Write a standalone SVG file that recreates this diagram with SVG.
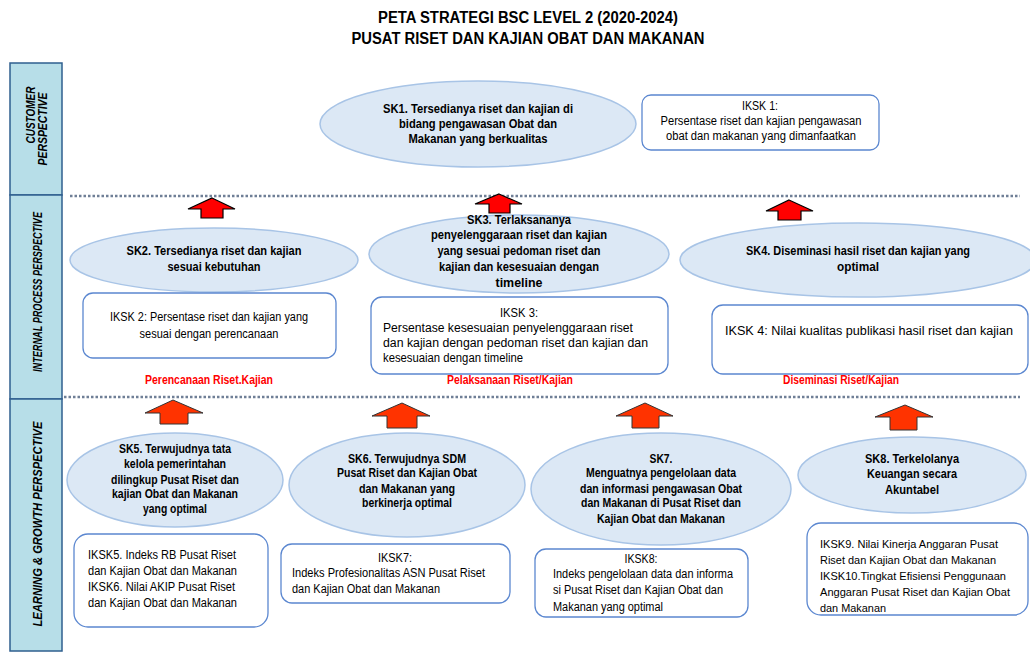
<svg xmlns="http://www.w3.org/2000/svg" width="1030" height="652" viewBox="0 0 1030 652">
<style>
.t{font-family:"Liberation Sans Narrow","Liberation Sans",Arial,sans-serif;fill:#000}
.title{font-size:16px;font-weight:bold;text-anchor:middle}
.side{font-size:12.5px;font-weight:bold;font-style:italic;text-anchor:middle}
.sk{font-size:12.5px;font-weight:bold;text-anchor:middle}
.ik{font-size:12.5px}
.iks{font-size:11.5px}
.ikc{font-size:12.5px;text-anchor:middle}
.lab{font-size:12.5px;font-weight:bold;fill:#ff0000;text-anchor:middle}
.ell{fill:#dce8f5;stroke:#a8c4e6;stroke-width:1.5}
.box{fill:#fff;stroke:#5b87d0;stroke-width:1.3}
.sidebox{fill:#b7dee8;stroke:#2f5f8f;stroke-width:1.5}
.dot{stroke:#6f7f96;stroke-width:2.5;stroke-dasharray:2.5 2}
.ar1{fill:#ff0000;stroke:#000;stroke-width:1.2}
.ar2{fill:#ff3300;stroke:#333;stroke-width:1}
</style>

<g id="title">
<text class="t title" x="528" y="23" textLength="300" lengthAdjust="spacingAndGlyphs">PETA STRATEGI BSC LEVEL 2 (2020-2024)</text>
<text class="t title" x="528" y="44" textLength="353" lengthAdjust="spacingAndGlyphs">PUSAT RISET DAN KAJIAN OBAT DAN MAKANAN</text>
</g>

<g id="sidebar">
<rect class="sidebox" x="10" y="63" width="52" height="132"/>
<rect class="sidebox" x="10" y="195" width="52" height="204"/>
<rect class="sidebox" x="10" y="399" width="52" height="252"/>
<text class="t side" x="35" y="115" transform="rotate(-90 35 115)" textLength="57" lengthAdjust="spacingAndGlyphs">CUSTOMER</text>
<text class="t side" x="47" y="129" transform="rotate(-90 47 129)" textLength="73" lengthAdjust="spacingAndGlyphs">PERSPECTIVE</text>
<text class="t side" x="42" y="292" transform="rotate(-90 42 292)" textLength="160" lengthAdjust="spacingAndGlyphs">INTERNAL PROCESS PERSPECTIVE</text>
<text class="t side" x="42" y="524" transform="rotate(-90 42 524)" textLength="205" lengthAdjust="spacingAndGlyphs">LEARNING &amp; GROWTH PERSPECTIVE</text>
</g>

<g id="dividers">
<line class="dot" x1="70" y1="196" x2="1020" y2="196"/>
<line class="dot" x1="64" y1="397" x2="1020" y2="397"/>
</g>

<g id="SK1">
<ellipse class="ell" cx="478" cy="124" rx="158" ry="43"/>
<text class="t sk" x="478" y="113" textLength="190" lengthAdjust="spacingAndGlyphs">SK1. Tersedianya riset dan kajian di</text>
<text class="t sk" x="478" y="128" textLength="158" lengthAdjust="spacingAndGlyphs">bidang pengawasan Obat dan</text>
<text class="t sk" x="478" y="143" textLength="139" lengthAdjust="spacingAndGlyphs">Makanan yang berkualitas</text>
</g>

<g id="IKSK1">
<rect class="box" x="642" y="95" width="237" height="55" rx="9"/>
<text class="t ikc" x="760" y="110" textLength="36" lengthAdjust="spacingAndGlyphs">IKSK 1:</text>
<text class="t ikc" x="761" y="125" textLength="201" lengthAdjust="spacingAndGlyphs">Persentase riset dan kajian pengawasan</text>
<text class="t ikc" x="761" y="140" textLength="190" lengthAdjust="spacingAndGlyphs">obat dan makanan yang dimanfaatkan</text>
</g>

<g id="SK2">
<ellipse class="ell" cx="214" cy="260" rx="144" ry="32"/>
<text class="t sk" x="214" y="255" textLength="175" lengthAdjust="spacingAndGlyphs">SK2. Tersedianya riset dan kajian</text>
<text class="t sk" x="214" y="271" textLength="93" lengthAdjust="spacingAndGlyphs">sesuai kebutuhan</text>
</g>

<g id="SK3">
<ellipse class="ell" cx="519" cy="254" rx="150" ry="39"/>
<text class="t sk" x="519" y="224" textLength="104" lengthAdjust="spacingAndGlyphs">SK3. Terlaksananya</text>
<text class="t sk" x="519" y="239" textLength="176" lengthAdjust="spacingAndGlyphs">penyelenggaraan riset dan kajian</text>
<text class="t sk" x="519" y="255" textLength="163" lengthAdjust="spacingAndGlyphs">yang sesuai pedoman riset dan</text>
<text class="t sk" x="519" y="271" textLength="160" lengthAdjust="spacingAndGlyphs">kajian dan kesesuaian dengan</text>
<text class="t sk" x="519" y="287" textLength="47" lengthAdjust="spacingAndGlyphs">timeline</text>
</g>

<g id="SK4">
<ellipse class="ell" cx="858" cy="260" rx="178" ry="37"/>
<text class="t sk" x="858" y="255" textLength="224" lengthAdjust="spacingAndGlyphs">SK4. Diseminasi hasil riset dan kajian yang</text>
<text class="t sk" x="858" y="271" textLength="42" lengthAdjust="spacingAndGlyphs">optimal</text>
</g>

<g id="IKSK2">
<rect class="box" x="83" y="293" width="253" height="65" rx="10"/>
<text class="t ikc" x="209" y="321" textLength="198" lengthAdjust="spacingAndGlyphs">IKSK 2: Persentase riset dan kajian yang</text>
<text class="t ikc" x="209" y="338" textLength="139" lengthAdjust="spacingAndGlyphs">sesuai dengan perencanaan</text>
</g>

<g id="IKSK3">
<rect class="box" x="371" y="297" width="297" height="77" rx="11"/>
<text class="t ikc" x="519" y="317" textLength="38" lengthAdjust="spacingAndGlyphs">IKSK 3:</text>
<text class="t ik" x="383" y="332" textLength="250" lengthAdjust="spacingAndGlyphs">Persentase kesesuaian penyelenggaraan riset</text>
<text class="t ik" x="383" y="347" textLength="265" lengthAdjust="spacingAndGlyphs">dan kajian dengan pedoman riset dan kajian dan</text>
<text class="t ik" x="383" y="362" textLength="140" lengthAdjust="spacingAndGlyphs">kesesuaian dengan timeline</text>
</g>

<g id="IKSK4">
<rect class="box" x="712" y="305" width="316" height="69" rx="11"/>
<text class="t ik" x="725" y="335" textLength="288" lengthAdjust="spacingAndGlyphs">IKSK 4: Nilai kualitas publikasi hasil riset dan kajian</text>
</g>

<g id="labels">
<text class="t lab" x="209" y="384" textLength="128" lengthAdjust="spacingAndGlyphs">Perencanaan Riset.Kajian</text>
<text class="t lab" x="510" y="384" textLength="126" lengthAdjust="spacingAndGlyphs">Pelaksanaan Riset/Kajian</text>
<text class="t lab" x="841" y="384" textLength="116" lengthAdjust="spacingAndGlyphs">Diseminasi Riset/Kajian</text>
</g>

<g id="SK5">
<ellipse class="ell" cx="175" cy="480" rx="108" ry="47"/>
<text class="t sk" x="175" y="453" textLength="112" lengthAdjust="spacingAndGlyphs">SK5. Terwujudnya tata</text>
<text class="t sk" x="175" y="468" textLength="102" lengthAdjust="spacingAndGlyphs">kelola pemerintahan</text>
<text class="t sk" x="175" y="484" textLength="128" lengthAdjust="spacingAndGlyphs">dilingkup Pusat Riset dan</text>
<text class="t sk" x="175" y="498" textLength="126" lengthAdjust="spacingAndGlyphs">kajian Obat dan Makanan</text>
<text class="t sk" x="175" y="513" textLength="64" lengthAdjust="spacingAndGlyphs">yang optimal</text>
</g>

<g id="SK6">
<ellipse class="ell" cx="407" cy="485" rx="118" ry="52"/>
<text class="t sk" x="407" y="463" textLength="118" lengthAdjust="spacingAndGlyphs">SK6. Terwujudnya SDM</text>
<text class="t sk" x="407" y="477" textLength="140" lengthAdjust="spacingAndGlyphs">Pusat Riset dan Kajian Obat</text>
<text class="t sk" x="407" y="493" textLength="96" lengthAdjust="spacingAndGlyphs">dan Makanan  yang</text>
<text class="t sk" x="407" y="507" textLength="90" lengthAdjust="spacingAndGlyphs">berkinerja optimal</text>
</g>

<g id="SK7">
<ellipse class="ell" cx="661" cy="489" rx="130" ry="56"/>
<text class="t sk" x="661" y="463" textLength="23" lengthAdjust="spacingAndGlyphs">SK7.</text>
<text class="t sk" x="661" y="477" textLength="150" lengthAdjust="spacingAndGlyphs">Menguatnya pengelolaan data</text>
<text class="t sk" x="661" y="493" textLength="162" lengthAdjust="spacingAndGlyphs">dan informasi pengawasan Obat</text>
<text class="t sk" x="661" y="507" textLength="160" lengthAdjust="spacingAndGlyphs">dan Makanan di Pusat Riset dan</text>
<text class="t sk" x="661" y="523" textLength="128" lengthAdjust="spacingAndGlyphs">Kajian Obat dan Makanan</text>
</g>

<g id="SK8">
<ellipse class="ell" cx="912" cy="475" rx="114" ry="38"/>
<text class="t sk" x="912" y="463" textLength="94" lengthAdjust="spacingAndGlyphs">SK8. Terkelolanya</text>
<text class="t sk" x="912" y="478" textLength="90" lengthAdjust="spacingAndGlyphs">Keuangan secara</text>
<text class="t sk" x="912" y="494" textLength="54" lengthAdjust="spacingAndGlyphs">Akuntabel</text>
</g>

<g id="IKSK5-6">
<rect class="box" x="74" y="534" width="194" height="93" rx="14"/>
<text class="t ik" x="88" y="559" textLength="148" lengthAdjust="spacingAndGlyphs">IKSK5. Indeks RB Pusat Riset</text>
<text class="t ik" x="88" y="575" textLength="149" lengthAdjust="spacingAndGlyphs">dan Kajian Obat dan Makanan</text>
<text class="t ik" x="88" y="591" textLength="147" lengthAdjust="spacingAndGlyphs">IKSK6. Nilai AKIP Pusat Riset</text>
<text class="t ik" x="88" y="607" textLength="149" lengthAdjust="spacingAndGlyphs">dan Kajian Obat dan Makanan</text>
</g>

<g id="IKSK7">
<rect class="box" x="281" y="544" width="229" height="59" rx="11"/>
<text class="t ikc" x="395" y="562" textLength="34" lengthAdjust="spacingAndGlyphs">IKSK7:</text>
<text class="t ik" x="292" y="577" textLength="193" lengthAdjust="spacingAndGlyphs">Indeks Profesionalitas ASN Pusat Riset</text>
<text class="t ik" x="292" y="593" textLength="148" lengthAdjust="spacingAndGlyphs">dan Kajian Obat dan Makanan</text>
</g>

<g id="IKSK8">
<rect class="box" x="535" y="549" width="213" height="68" rx="11"/>
<text class="t ikc" x="641" y="563" textLength="33" lengthAdjust="spacingAndGlyphs">IKSK8:</text>
<text class="t ik" x="553" y="578" textLength="180" lengthAdjust="spacingAndGlyphs">Indeks pengelolaan data dan informa</text>
<text class="t ik" x="553" y="594" textLength="170" lengthAdjust="spacingAndGlyphs">si Pusat Riset dan Kajian Obat dan</text>
<text class="t ik" x="553" y="611" textLength="110" lengthAdjust="spacingAndGlyphs">Makanan yang optimal</text>
</g>

<g id="IKSK9-10">
<rect class="box" x="807" y="523" width="221" height="92" rx="14"/>
<text class="t iks" x="820" y="548" textLength="178" lengthAdjust="spacingAndGlyphs">IKSK9. Nilai Kinerja Anggaran Pusat</text>
<text class="t iks" x="820" y="564" textLength="176" lengthAdjust="spacingAndGlyphs">Riset dan Kajian Obat dan Makanan</text>
<text class="t iks" x="820" y="580" textLength="186" lengthAdjust="spacingAndGlyphs">IKSK10.Tingkat Efisiensi Penggunaan</text>
<text class="t iks" x="820" y="596" textLength="190" lengthAdjust="spacingAndGlyphs">Anggaran Pusat Riset dan Kajian Obat</text>
<text class="t iks" x="820" y="612" textLength="66" lengthAdjust="spacingAndGlyphs">dan Makanan</text>
</g>

<g id="connectors">
<polygon class="ar1" points="212,198 235,209 223,209 223,218 201,218 201,209 188,209"/>
<polygon class="ar1" points="499,194 522,204 510,204 510,213 489,213 489,204 475,204"/>
<polygon class="ar1" points="789,200 813,211 801,211 801,220 778,220 778,211 766,211"/>
<polygon class="ar2" points="173,400 203,413 188,413 188,424 160,424 160,413 145,413"/>
<polygon class="ar2" points="402,403 430,416 417,416 417,428 387,428 387,416 372,416"/>
<polygon class="ar2" points="645,403 673,416 659,416 659,428 632,428 632,416 616,416"/>
<polygon class="ar2" points="905,405 933,417 917,417 917,430 890,430 890,417 875,417"/>
</g>
</svg>
